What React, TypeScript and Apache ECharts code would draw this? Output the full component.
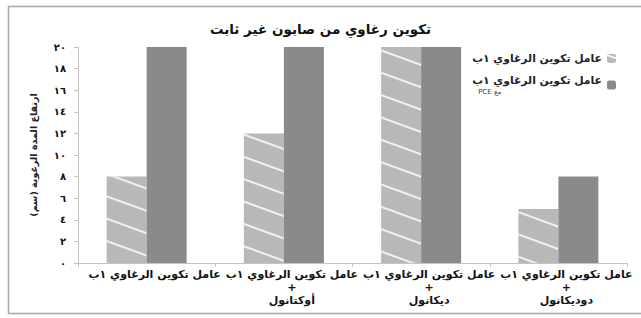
import React, { useEffect, useRef } from "react";
import * as echarts from "echarts";

const titleText = "تكوين رغاوي من صابون غير ثابت";
const yAxisName = "ارتفاع المدة الرغوية (سم)";
const categories = [
  "عامل تكوين الرغاوي ١ب",
  "عامل تكوين الرغاوي ١ب\n+\nأوكتانول",
  "عامل تكوين الرغاوي ١ب\n+\nديكانول",
  "عامل تكوين الرغاوي ١ب\n+\nدوديكانول",
];
const seriesNames = ["عامل تكوين الرغاوي ١ب", "عامل تكوين الرغاوي ١ب مع PCE"];
const seriesA = [8, 12, 20, 5];
const seriesB = [20, 20, 20, 8];
const yTicks = { min: 0, max: 20, interval: 2 };

const AR_DIGITS = "٠١٢٣٤٥٦٧٨٩";
const toArabic = (n: number) => String(n).replace(/\d/g, (d) => AR_DIGITS[Number(d)]);

const FONT = "DejaVu Sans";

export default function App() {
  const ref = useRef<HTMLDivElement>(null);
  useEffect(() => {
    if (!ref.current) return;
    const chart = echarts.init(ref.current, null, { renderer: "svg" });
    chart.setOption({
      animation: false,
      backgroundColor: "#ffffff",
      textStyle: { fontFamily: FONT },
      graphic: [
        {
          type: "rect",
          shape: { x: 8.5, y: 6.5, width: 660, height: 307 },
          style: { fill: "none", stroke: "#a8a8a8", lineWidth: 1.5 },
          silent: true,
          z: -10,
        },
      ],
      title: {
        text: titleText,
        left: "center",
        top: 17,
        textStyle: { fontFamily: FONT, fontSize: 13.5, fontWeight: "bold", color: "#111" },
      },
      legend: {
        orient: "vertical",
        right: 20,
        top: 47,
        align: "right",
        itemWidth: 9,
        itemHeight: 9,
        itemGap: 9,
        data: seriesNames,
        formatter: (name: string) =>
          name === seriesNames[1] ? "عامل تكوين الرغاوي ١ب\n{s|\u202Bمع PCE\u202C}" : name,
        textStyle: {
          fontFamily: FONT,
          fontSize: 10.8,
          fontWeight: "bold",
          color: "#222",
          lineHeight: 13,
          rich: {
            s: { fontSize: 7, fontWeight: "normal", color: "#444", lineHeight: 9, fontFamily: FONT, align: "left", padding: [0, 0, 0, 6] },
          },
        },
      },
      grid: { left: 78, right: 14, top: 47, bottom: 55, containLabel: false },
      xAxis: {
        type: "category",
        data: categories,
        axisLine: { lineStyle: { color: "#c4c4c4" } },
        axisTick: { show: true, length: 4, lineStyle: { color: "#c4c4c4" } },
        axisLabel: {
          interval: 0,
          margin: 5,
          fontFamily: FONT,
          fontSize: 11,
          fontWeight: "bold",
          color: "#111",
          lineHeight: 13,
          padding: [0, 0, 0, 16],
        },
      },
      yAxis: {
        type: "value",
        min: yTicks.min,
        max: yTicks.max,
        interval: yTicks.interval,
        name: yAxisName,
        nameLocation: "middle",
        nameGap: 40,
        nameRotate: 90,
        nameTextStyle: { fontFamily: FONT, fontSize: 9.5, fontWeight: "bold", color: "#222" },
        axisLine: { show: true, lineStyle: { color: "#c4c4c4" } },
        axisTick: { show: true, length: 4, lineStyle: { color: "#c4c4c4" } },
        splitLine: { show: false },
        axisLabel: {
          margin: 12,
          fontFamily: FONT,
          fontSize: 10,
          fontWeight: "bold",
          color: "#111",
          formatter: (v: number) => toArabic(v),
        },
      },
      series: [
        {
          name: seriesNames[0],
          type: "bar",
          data: seriesA,
          barWidth: 40,
          barGap: "0%",
          itemStyle: {
            color: "#b8b8b8",
            decal: {
              symbol: "rect",
              symbolSize: 1,
              dashArrayX: [1, 0],
              dashArrayY: [1.5, 19],
              rotation: Math.PI / 9,
              color: "rgba(255,255,255,0.8)",
            },
          },
        },
        {
          name: seriesNames[1],
          type: "bar",
          data: seriesB,
          barWidth: 40,
          barGap: "0%",
          itemStyle: { color: "#8a8a8a" },
        },
      ],
    });
    return () => chart.dispose();
  }, []);
  return (
    <div
      ref={ref}
      style={{ position: "fixed", left: 0, top: 0, width: 641, height: 318 }}
    />
  );
}
